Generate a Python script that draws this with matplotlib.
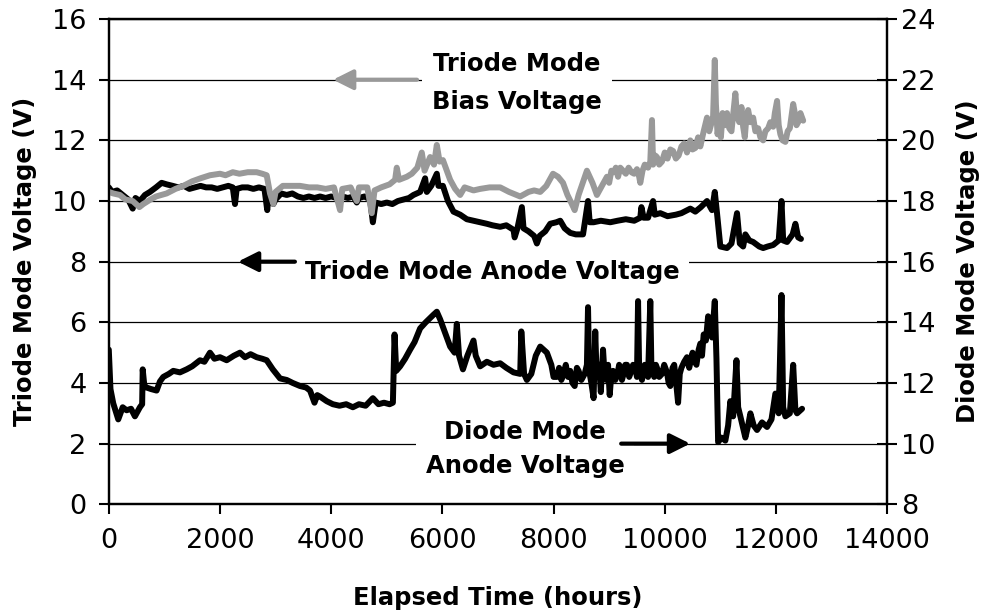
import matplotlib
matplotlib.use("Agg")
import matplotlib.pyplot as plt

plt.rcParams['font.family'] = ['DejaVu Sans']

# ---------------- data ----------------
triode_anode_t = [0, 60, 150, 250, 350, 430, 480, 560, 650, 740, 850, 950, 1040, 1150, 1250, 1350, 1450,
                  1550, 1650, 1750, 1850, 1950, 2050, 2150, 2230, 2270, 2300, 2400, 2500, 2600, 2700, 2800,
                  2850, 2880, 2960, 3000, 3100, 3200, 3300, 3400, 3500, 3600, 3700, 3800, 3900, 4000, 4100,
                  4160, 4200, 4300, 4400, 4460, 4500, 4600, 4700, 4750, 4800, 4900, 5000, 5100, 5200, 5300,
                  5400, 5480, 5600, 5690, 5720, 5800, 5900, 5930, 6010, 6100, 6200, 6320, 6440, 6560, 6680,
                  6800, 6900, 7040, 7150, 7280, 7300, 7350, 7430, 7460, 7550, 7650, 7700, 7750, 7850, 7940,
                  8050, 8120, 8200, 8300, 8400, 8530, 8620, 8650, 8720, 8850, 9020, 9150, 9300, 9450, 9560,
                  9580, 9620, 9700, 9790, 9820, 9920, 10050, 10200, 10300, 10460, 10550, 10650, 10760, 10850,
                  10900, 10940, 11000, 11120, 11200, 11300, 11350, 11410, 11450, 11520, 11590, 11700, 11770,
                  11850, 11950, 12050, 12100, 12130, 12200, 12300, 12350, 12400, 12450]
triode_anode_v = [10.45, 10.3, 10.35, 10.2, 10.05, 9.75, 10.1, 10.0, 10.2, 10.3, 10.45, 10.6, 10.55, 10.5, 10.45,
                  10.5, 10.4, 10.45, 10.5, 10.45, 10.45, 10.4, 10.45, 10.5, 10.45, 9.9, 10.4, 10.45, 10.45, 10.4,
                  10.45, 10.4, 9.7, 10.3, 9.9, 10.05, 10.25, 10.2, 10.25, 10.15, 10.1, 10.15, 10.1, 10.15, 10.1,
                  10.15, 10.1, 9.95, 10.15, 10.1, 10.15, 9.95, 10.1, 10.15, 10.05, 9.3, 9.95, 9.9, 9.95, 9.9,
                  10.0, 10.05, 10.1, 10.2, 10.3, 10.75, 10.3, 10.5, 10.9, 10.5, 10.5, 10.0, 9.65, 9.55, 9.4,
                  9.35, 9.3, 9.25, 9.2, 9.15, 9.2, 9.05, 8.8, 9.1, 9.8, 9.1, 9.0, 8.85, 8.6, 8.85, 9.0, 9.25,
                  9.3, 9.35, 9.1, 8.95, 8.9, 8.9, 10.0, 9.3, 9.3, 9.35, 9.3, 9.35, 9.4, 9.35, 9.45, 9.8, 9.45,
                  9.45, 10.0, 9.55, 9.6, 9.5, 9.55, 9.6, 9.75, 9.65, 9.8, 10.0, 9.7, 10.3, 9.6, 8.5, 8.45, 8.6,
                  9.6, 8.6, 8.5, 8.9, 8.7, 8.65, 8.5, 8.45, 8.5, 8.55, 8.7, 10.0, 8.7, 8.65, 8.9, 9.25, 8.8, 8.75]

triode_bias_t = [0, 80, 200, 300, 430, 550, 620, 750, 850, 1040, 1200, 1340, 1500, 1650, 1820, 2000, 2100,
                 2230, 2350, 2500, 2660, 2760, 2840, 2900, 2960, 3000, 3130, 3300, 3440, 3600, 3750, 3900, 4050,
                 4160, 4200, 4350, 4460, 4500, 4650, 4730, 4780, 4900, 5050, 5150, 5180, 5220, 5360, 5450, 5550,
                 5630, 5680, 5780, 5850, 5900, 5950, 6010, 6080, 6140, 6230, 6320, 6400, 6560, 6680, 6850, 7040,
                 7200, 7400, 7550, 7650, 7760, 7870, 7990, 8080, 8170, 8250, 8330, 8380, 8450, 8600, 8700, 8780,
                 8870, 8960, 9000, 9040, 9080, 9120, 9160, 9200, 9250, 9300, 9350, 9400, 9450, 9500, 9540, 9560,
                 9600, 9640, 9700, 9740, 9770, 9790, 9830, 9860, 9900, 9950, 10000, 10050, 10100, 10150, 10200,
                 10250, 10300, 10350, 10400, 10460, 10500, 10550, 10600, 10640, 10700, 10760, 10800, 10830,
                 10870, 10900, 10920, 10950, 10980, 11010, 11040, 11080, 11120, 11160, 11200, 11240, 11270,
                 11300, 11340, 11380, 11410, 11440, 11470, 11500, 11540, 11590, 11630, 11680, 11720, 11770,
                 11810, 11860, 11900, 11950, 11980, 12020, 12050, 12080, 12120, 12170, 12210, 12250, 12280,
                 12310, 12340, 12370, 12400, 12440, 12490]
triode_bias_v = [10.3, 10.25, 10.2, 10.05, 10.0, 9.8, 9.9, 10.05, 10.15, 10.25, 10.4, 10.5, 10.65, 10.75, 10.85,
                 10.9, 10.85, 10.95, 10.9, 10.95, 10.95, 10.9, 10.85, 10.25, 9.9, 10.3, 10.5, 10.5, 10.5, 10.45,
                 10.45, 10.4, 10.45, 9.7, 10.4, 10.45, 10.0, 10.45, 10.45, 9.6, 10.35, 10.45, 10.55, 10.7, 11.1,
                 10.7, 10.8, 10.9, 11.1, 11.6, 11.0, 11.45, 11.2, 11.85, 11.3, 11.35, 11.0, 10.7, 10.4, 10.2,
                 10.45, 10.35, 10.4, 10.45, 10.45, 10.3, 10.15, 10.3, 10.35, 10.3, 10.5, 10.9, 10.8, 10.6, 10.2,
                 9.9, 9.7, 10.2, 11.0, 10.6, 10.2, 10.5, 10.8, 10.6, 11.0, 10.95, 11.1, 10.8, 11.1, 11.0, 10.9,
                 11.1, 10.95, 10.9, 11.05, 10.8, 10.6, 11.0, 11.2, 11.1, 11.3, 12.67, 11.2, 11.5, 11.45, 11.2,
                 11.3, 11.6, 11.4, 11.7, 11.65, 11.4, 11.5, 11.8, 11.9, 11.6, 12.0, 11.7, 11.75, 12.1, 11.8,
                 12.3, 12.75, 12.3, 12.5, 12.8, 14.65, 13.2, 12.2, 12.6, 12.1, 12.9, 12.5, 12.9, 12.4, 12.3,
                 13.0, 13.55, 12.8, 12.6, 13.1, 12.45, 12.1, 12.8, 13.0, 12.6, 12.75, 12.3, 12.4, 12.1, 12.0,
                 12.3, 12.4, 12.6, 12.45, 12.9, 13.3, 12.5, 12.2, 12.0, 11.95, 12.3, 12.4, 12.8, 13.2, 12.9,
                 12.5, 12.6, 12.9, 12.65]

diode_anode_t = [0, 30, 80, 170, 250, 320, 400, 470, 560, 600, 610, 640, 680, 760, 860, 920, 980, 1080, 1160,
                 1280, 1400, 1500, 1640, 1720, 1820, 1900, 2000, 2120, 2250, 2360, 2450, 2550, 2660, 2760, 2840,
                 2950, 3080, 3200, 3310, 3440, 3550, 3620, 3700, 3750, 3800, 3920, 4030, 4150, 4270, 4390, 4500,
                 4620, 4750, 4850, 4950, 5050, 5110, 5140, 5170, 5240, 5330, 5420, 5500, 5600, 5700, 5840, 5900,
                 5960, 6010, 6080, 6140, 6220, 6260, 6300, 6370, 6450, 6560, 6600, 6680, 6800, 6920, 7040, 7150,
                 7280, 7400, 7420, 7470, 7520, 7600, 7680, 7760, 7880, 7960, 8000, 8060, 8100, 8140, 8180, 8220,
                 8260, 8300, 8340, 8380, 8420, 8450, 8500, 8560, 8600, 8620, 8640, 8680, 8720, 8750, 8770, 8790,
                 8820, 8850, 8890, 8920, 8950, 8980, 9010, 9040, 9070, 9110, 9150, 9180, 9200, 9230, 9260, 9290,
                 9320, 9360, 9400, 9430, 9470, 9500, 9520, 9540, 9560, 9590, 9610, 9640, 9660, 9700, 9740, 9760,
                 9780, 9810, 9840, 9860, 9900, 9950, 9990, 10040, 10070, 10100, 10140, 10170, 10200, 10240,
                 10270, 10300, 10350, 10400, 10440, 10500, 10540, 10570, 10610, 10640, 10670, 10700, 10740,
                 10780, 10820, 10850, 10900, 10930, 10960, 11020, 11090, 11140, 11180, 11230, 11290, 11320,
                 11360, 11450, 11500, 11540, 11600, 11660, 11750, 11840, 11920, 11990, 12050, 12100, 12130,
                 12170, 12250, 12310, 12350, 12380, 12470]
diode_anode_v = [13.1, 11.8, 11.33, 10.8, 11.2, 11.1, 11.15, 10.9, 11.2, 11.3, 12.45, 11.9, 11.85, 11.8, 11.75,
                 12.05, 12.2, 12.3, 12.4, 12.35, 12.45, 12.55, 12.75, 12.7, 13.0, 12.8, 12.85, 12.75, 12.9, 13.0,
                 12.85, 12.95, 12.85, 12.8, 12.75, 12.45, 12.15, 12.1, 12.0, 11.9, 11.85, 11.75, 11.35, 11.6,
                 11.55, 11.4, 11.3, 11.25, 11.3, 11.2, 11.3, 11.25, 11.5, 11.3, 11.35, 11.3, 11.35, 13.6, 12.4,
                 12.55, 12.8, 13.1, 13.35, 13.8, 14.0, 14.25, 14.35, 14.1, 13.85, 13.5, 13.2, 13.0, 13.95, 12.9,
                 12.45, 12.9, 13.4, 12.9, 12.55, 12.7, 12.6, 12.65, 12.5, 12.35, 12.3, 13.7, 12.3, 12.1, 12.3,
                 12.9, 13.2, 13.0, 12.6, 12.2, 12.2, 12.5, 12.1, 12.3, 12.6, 12.2, 12.4, 12.0, 11.9, 12.5, 12.4,
                 12.1, 12.3, 12.6, 14.5, 12.4, 12.0, 11.5, 13.7, 12.5, 12.2, 12.6, 11.7, 13.1, 12.2, 12.1, 12.6,
                 11.6, 12.3, 12.4, 12.1, 12.3, 12.6, 12.5, 12.1, 12.3, 12.6, 12.6, 12.2, 12.4, 12.6, 12.5, 12.2,
                 14.7, 12.4, 12.4, 12.1, 12.3, 12.6, 12.5, 12.2, 14.7, 12.5, 12.5, 12.2, 12.6, 12.5, 12.2, 12.3,
                 12.6, 12.35, 12.0, 11.9, 12.5, 12.6, 12.1, 11.35, 12.3, 12.5, 12.7, 12.85, 12.5, 13.0, 12.7,
                 12.6, 13.1, 13.3, 12.9, 13.6, 13.4, 14.2, 13.9, 13.5, 14.7, 12.8, 10.05, 10.2, 10.1, 10.6, 11.4,
                 10.9, 12.75, 11.2, 10.9, 10.2, 10.6, 11.0, 10.6, 10.45, 10.7, 10.55, 10.8, 11.65, 11.0, 14.9,
                 11.2, 10.9, 11.0, 12.6, 11.1, 11.0, 11.15]

x_ticks = [0, 2000, 4000, 6000, 8000, 10000, 12000, 14000]
left_ticks = [0, 2, 4, 6, 8, 10, 12, 14, 16]
right_ticks = [8, 10, 12, 14, 16, 18, 20, 22, 24]

# ---------------- figure ----------------
fig = plt.figure(figsize=(9.89, 6.15), dpi=100)
ax = fig.add_axes([0.110, 0.180, 0.787, 0.789])
ax2 = ax.twinx()

GRAY = '#999999'
LW = 4.3
BOLD_FS = 17.5
TICK_FS = 19.5

ax.set_xlim(0, 14000)
ax.set_ylim(0, 16)
ax2.set_ylim(8, 24)

ax.set_yticks(left_ticks)
ax.set_xticks(x_ticks)
ax2.set_yticks(right_ticks)

ax.grid(axis='y', color='black', linewidth=0.9, zorder=0)
ax.set_axisbelow(True)

style = dict(lw=LW, solid_joinstyle='round', solid_capstyle='round')
ax.plot(triode_anode_t, triode_anode_v, color='black', zorder=3, **style)
ax.plot(triode_bias_t, triode_bias_v, color=GRAY, zorder=4, **style)
ax2.plot(diode_anode_t, diode_anode_v, color='black', zorder=3, **style)

for a in (ax, ax2):
    for s in a.spines.values():
        s.set_linewidth(1.6)
        s.set_color('black')

ax.tick_params(axis='y', direction='out', length=7, width=1.5, labelsize=TICK_FS, pad=9)
ax.tick_params(axis='x', direction='out', length=7, width=1.5, labelsize=TICK_FS, pad=10)
ax2.tick_params(axis='y', direction='inout', length=14, width=1.5, labelsize=TICK_FS, pad=3)

ax.set_xlabel('Elapsed Time (hours)', fontsize=BOLD_FS, fontweight='bold')
ax.xaxis.set_label_coords(0.5, -0.194)
ax.xaxis.label.set_va('center')
ax.set_ylabel('Triode Mode Voltage (V)', fontsize=BOLD_FS, fontweight='bold', va='center')
ax.yaxis.set_label_coords(-0.108, 0.5)
ax2.set_ylabel('Diode Mode Voltage (V)', fontsize=BOLD_FS, fontweight='bold', va='center', rotation=90)
ax2.yaxis.set_label_coords(1.104, 0.5)

# annotations (text with white boxes hiding gridlines)
box = dict(boxstyle='square,pad=0.4', fc='white', ec='none')
ax.text(7344, 13.88, 'Triode Mode\nBias Voltage', fontsize=BOLD_FS, fontweight='bold',
        ha='center', va='center', linespacing=1.75, bbox=box, zorder=5)
ax.text(3528, 7.65, 'Triode Mode Anode Voltage', fontsize=BOLD_FS, fontweight='bold',
        ha='left', va='center', bbox=box, zorder=5)
ax.text(7488, 1.82, 'Diode Mode\nAnode Voltage', fontsize=BOLD_FS, fontweight='bold',
        ha='center', va='center', linespacing=1.55, bbox=box, zorder=5)

arrow_style = '-|>,head_length=1.2,head_width=0.6'
ax.annotate('', xy=(4032, 14), xytext=(5544, 14),
            arrowprops=dict(arrowstyle=arrow_style, color=GRAY, lw=3, shrinkA=0, shrinkB=0), zorder=6)
ax.annotate('', xy=(2322, 8), xytext=(3348, 8),
            arrowprops=dict(arrowstyle=arrow_style, color='black', lw=3, shrinkA=0, shrinkB=0), zorder=6)
ax.annotate('', xy=(10458, 2), xytext=(9216, 2),
            arrowprops=dict(arrowstyle=arrow_style, color='black', lw=3, shrinkA=0, shrinkB=0), zorder=6)

fig.savefig('out.png', dpi=100)
